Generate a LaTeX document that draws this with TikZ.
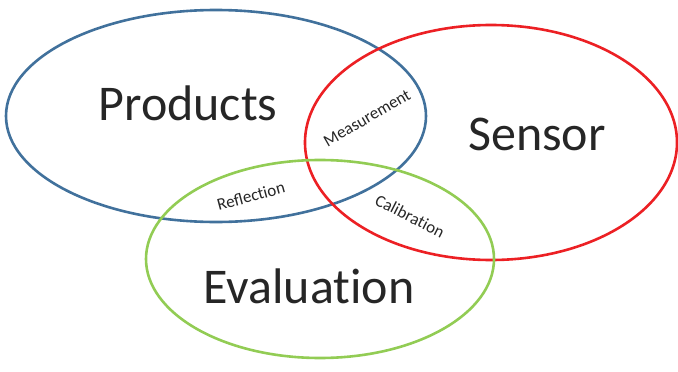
\documentclass[tikz,border=0pt]{standalone}
\usepackage{fontspec}
\setmainfont{Carlito}
\usetikzlibrary{shapes.geometric}
\definecolor{setblue}{RGB}{65,113,156}
\definecolor{setred}{RGB}{236,32,36}
\definecolor{setgreen}{RGB}{146,204,84}
\newcommand{\noti}{t\kern0pt i} % keeps t and i apart
\tikzset{
x=1pt, y=-1pt, % one unit is one pixel, y runs downwards
every set/.style={ellipse, draw, line width=2.6pt, inner sep=0pt}, % the three circles
big label/.style={font=\fontsize{50}{50}\selectfont, text=black!85, anchor=base}, % names of the sets
small label/.style={font=\fontsize{17}{17}\selectfont, text=black!85}, % names of the overlaps
}

\begin{document}
\begin{tikzpicture}
    \useasboundingbox (0,0) rectangle (678,372);
    \node[every set, draw=setblue, minimum width=420pt, minimum height=212pt] (products) at (216,116) {};
    \node[every set, draw=setred, minimum width=372pt, minimum height=235pt] (sensor) at (491,142.5) {};
    \node[every set, draw=setgreen, minimum width=348pt, minimum height=198pt] (evaluation) at (320,259) {};
    \node[big label] (productstext) at (188,120) {Products};
    \node[big label] (sensortext) at (537,150) {Sensor};
    \node[big label] (evaluationtext) at (309,303) {Evalua\noti on};
    \node[small label, rotate=30] (measurement) at (367,118) {Measurement};
    \node[small label, rotate=15] (reflection) at (251,196) {Reflec\noti on};
    \node[small label, rotate=-27] (calibration) at (410,216) {Calibra\noti on};
\end{tikzpicture}
\end{document}
